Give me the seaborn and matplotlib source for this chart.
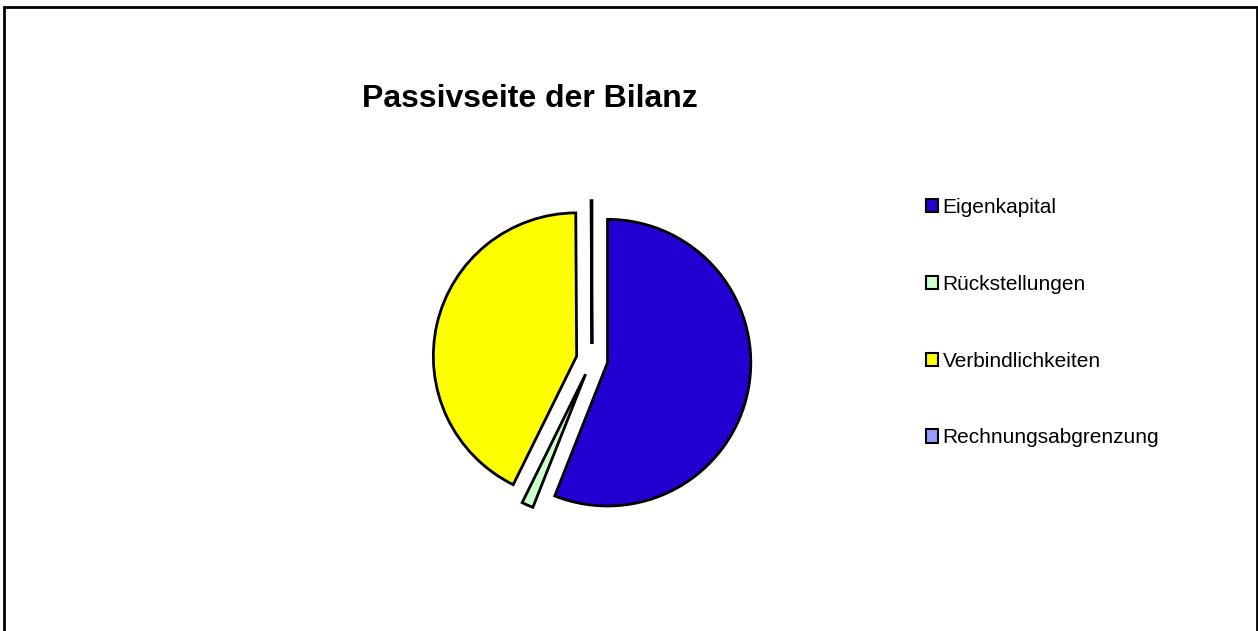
import matplotlib
matplotlib.use('Agg')
import matplotlib.pyplot as plt
from matplotlib.patches import Rectangle
import seaborn as sns

# Data (shares, in percent)
CATEGORIES = ['Eigenkapital', 'Rückstellungen', 'Verbindlichkeiten', 'Rechnungsabgrenzung']
VALUES = [56.0, 1.3, 42.6, 0.1]
COLORS = ['#2200D2', '#CCFFCC', '#FFFF00', '#9999FF']
TITLE = 'Passivseite der Bilanz'

sns.set_theme(style='white')
plt.rcParams['font.family'] = ['Liberation Sans', 'DejaVu Sans']
plt.rcParams['text.color'] = 'black'

fig = plt.figure(figsize=(12.58, 6.31), dpi=100)
fig.patch.set_facecolor('white')

# pie axes: centre ~ (592, 360) px, radius ~143 px
ax = fig.add_axes([0.3225, 0.1347, 0.2962, 0.5905])
wedges, _ = ax.pie(VALUES, colors=COLORS, startangle=90, counterclock=False,
                   explode=[0.11] * len(VALUES),
                   wedgeprops=dict(edgecolor='black', linewidth=2))
ax.set_xlim(-1.3, 1.3)
ax.set_ylim(-1.3, 1.3)
ax.set_aspect('equal')
ax.axis('off')

fig.text(0.4213, 0.843, TITLE, ha='center', va='center',
         fontsize=23, fontweight='bold', color='black')

leg = fig.legend(wedges, CATEGORIES, loc='center left',
                 bbox_to_anchor=(0.736, 0.4885), frameon=False,
                 fontsize=15, handlelength=0.6, handleheight=0.6,
                 handletextpad=0.2, labelspacing=2.77,
                 borderpad=0, borderaxespad=0, labelcolor='black')
for h in leg.legend_handles:
    h.set_linewidth(1.5)

# chart border
fig.patches.append(Rectangle((4 / 1258, -0.02), 1253 / 1258, 1.02 - 6.5 / 631,
                             transform=fig.transFigure, fill=False,
                             edgecolor='black', linewidth=2))

fig.savefig('out.png', dpi=100)
